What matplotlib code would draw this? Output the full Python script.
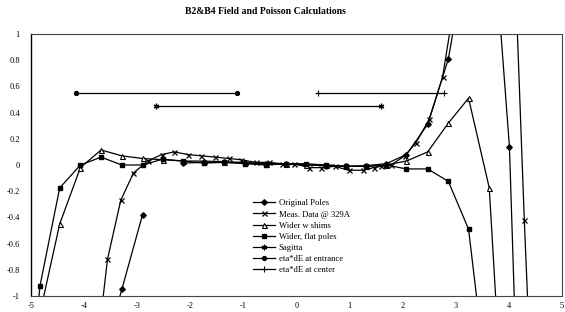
import numpy as np
import matplotlib
matplotlib.use('Agg')
import matplotlib.pyplot as plt
from matplotlib.ticker import FuncFormatter

plt.rcParams['font.family'] = ['Liberation Serif', 'DejaVu Serif']
plt.rcParams['axes.unicode_minus'] = False

# x positions for the calculated series
x_calc = [-5.22, -4.83, -4.46, -4.07, -3.68, -3.29, -2.90, -2.52, -2.13, -1.75, -1.36,
          -0.97, -0.58, -0.20, 0.17, 0.55, 0.93, 1.31, 1.69, 2.07, 2.47, 2.86,
          3.24, 3.63, 4.01, 4.40]

# Original Poles (gap after -2.90)
orig_y = [np.nan, np.nan, np.nan, np.nan, -1.5, -0.95, -0.38, np.nan, 0.015, 0.02, 0.02,
          0.015, 0.01, 0.005, 0.0, -0.005, -0.01, -0.005, 0.01, 0.08, 0.31, 0.81,
          1.7, 2.19, 0.14, -4.8]

# Wider w shims
shims_y = [np.nan, -1.13, -0.45, -0.02, 0.115, 0.07, 0.05, 0.04, 0.03, 0.03, 0.025,
           0.02, 0.01, 0.01, 0.0, 0.0, -0.01, -0.01, 0.0, 0.03, 0.10, 0.32,
           0.51, -0.175, -2.8, np.nan]

# Wider, flat poles
flat_y = [-2.5, -0.92, -0.175, 0.0, 0.06, 0.0, 0.0, 0.045, 0.03, 0.015, 0.02,
          0.01, 0.0, 0.01, 0.01, 0.0, -0.01, -0.01, 0.0, -0.03, -0.03, -0.125,
          -0.49, -1.82, np.nan, np.nan]

# Meas. Data @ 329A
meas_x = [-3.81, -3.56, -3.31, -3.07, -2.80, -2.54, -2.30, -2.05, -1.79, -1.53, -1.28,
          -1.04, -0.77, -0.52, -0.28, -0.04, 0.23, 0.47, 0.72, 0.98, 1.25, 1.45,
          1.60, 1.78, 2.04, 2.25, 2.50, 2.75, 3.00, 3.25, 3.50, 3.75, 4.00, 4.29, 4.54]
meas_y = [-1.6, -0.72, -0.27, -0.06, 0.03, 0.08, 0.10, 0.08, 0.07, 0.06, 0.05,
          0.04, 0.02, 0.02, 0.01, 0.01, -0.02, -0.02, -0.01, -0.04, -0.04, -0.02,
          -0.01, 0.0, 0.07, 0.17, 0.35, 0.67, 1.3, 2.5, 3.0, 3.0, 2.75, -0.42, -2.85]

# Sagitta and eta*dE bars
sag_x = [-2.64, 1.60]
sag_y = [0.45, 0.45]
ent_x = [-4.15, -1.13]
ent_y = [0.55, 0.55]
cen_x = [0.41, 2.77]
cen_y = [0.55, 0.55]

fig = plt.figure(figsize=(5.65, 3.12), dpi=100)
ax = fig.add_axes([0.0549, 0.0513, 0.9398, 0.8397])

lw = 0.9
ax.plot(x_calc, orig_y, color='black', lw=lw, marker='D', ms=2.8, label='Original Poles')
ax.plot(meas_x, meas_y, color='black', lw=lw, marker='x', ms=3.6, mew=0.9, label='Meas. Data @ 329A')
ax.plot(x_calc, shims_y, color='black', lw=lw, marker='^', ms=3.6, mfc='white', mew=0.8,
        label='Wider w shims')
ax.plot(x_calc, flat_y, color='black', lw=lw, marker='s', ms=3.3, label='Wider, flat poles')
ax.plot(sag_x, sag_y, color='black', lw=lw, marker=(6, 2, 0), ms=4, mew=0.9, label='Sagitta')
ax.plot(ent_x, ent_y, color='black', lw=lw, marker='o', ms=2.8, label='eta*dE at entrance')
ax.plot(cen_x, cen_y, color='black', lw=lw, marker='+', ms=4, mew=0.8, label='eta*dE at center')

ax.set_xlim(-5, 5)
ax.set_ylim(-1, 1)
ax.set_xticks(np.arange(-5, 6, 1))
ax.set_yticks(np.round(np.arange(-1, 1.01, 0.2), 1))
ax.xaxis.set_major_formatter(FuncFormatter(lambda v, p: '%g' % (round(v) + 0.0)))
ax.yaxis.set_major_formatter(FuncFormatter(lambda v, p: '%g' % (round(v, 1) + 0.0)))
ax.tick_params(axis='both', length=0, labelsize=6)
ax.tick_params(axis='y', pad=8)
ax.tick_params(axis='x', pad=4)

for s in ax.spines.values():
    s.set_linewidth(0.8)
    s.set_color('#444444')
ax.spines['left'].set_color('black')
ax.spines['left'].set_linewidth(1.0)

ax.legend(loc='upper left', bbox_to_anchor=(0.41, 0.385), frameon=False, fontsize=6.2,
          handlelength=2.6, labelspacing=0.35, borderpad=0, handletextpad=0.4)

fig.text(265 / 565, 1 - 12 / 312, 'B2&B4 Field and Poisson Calculations', ha='center',
         va='center', fontsize=7, fontweight='bold')

fig.savefig('out.png', dpi=100)
